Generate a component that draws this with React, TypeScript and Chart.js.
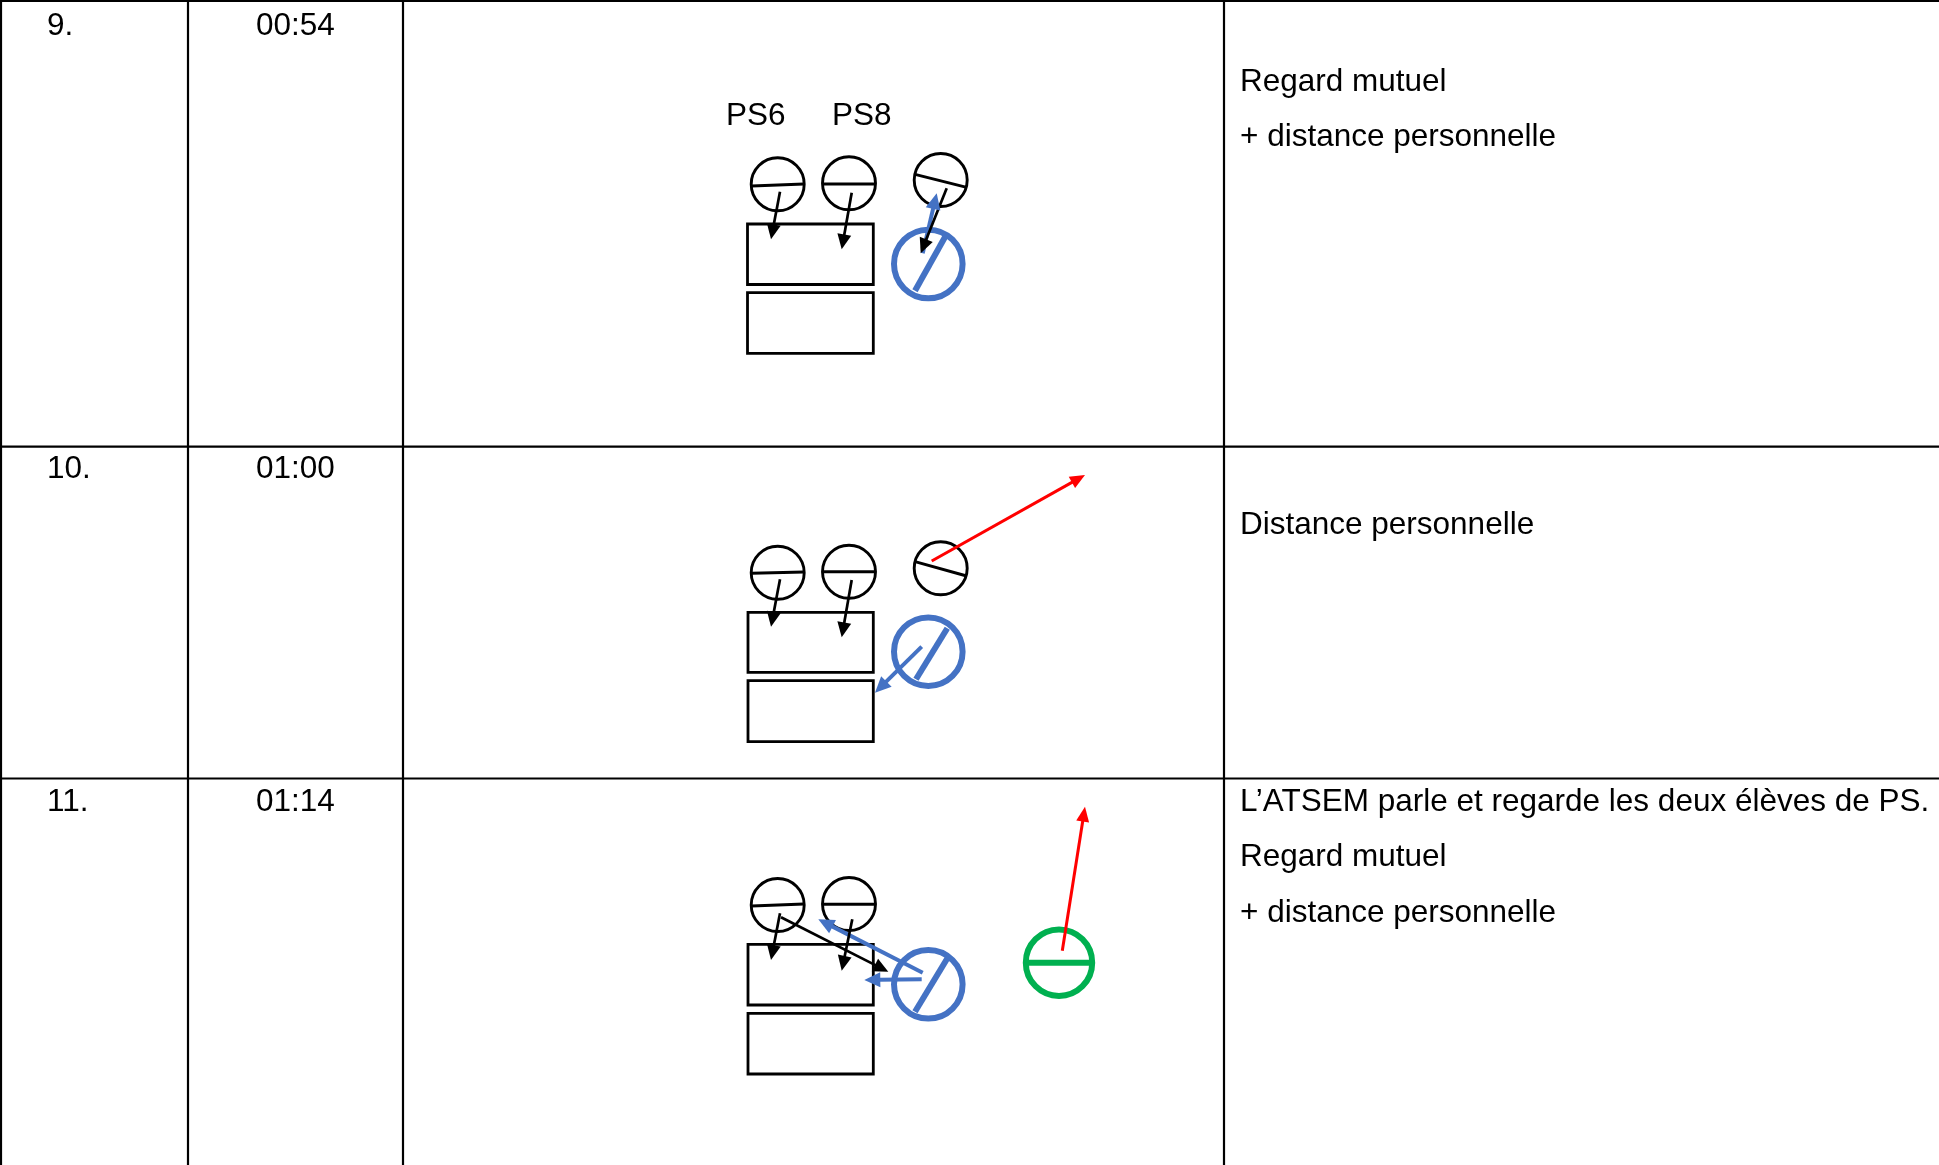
import React, { useEffect, useRef } from "react";
import { Chart, registerables } from "chart.js";
Chart.register(...registerables);

// ---------- data ----------
const rowNumbers = ["9.", "10.", "11."];
const rowTimes = ["00:54", "01:00", "01:14"];
const rowNotes = [
  ["Regard mutuel", "+ distance personnelle"],
  ["Distance personnelle"],
  ["L’ATSEM parle et regarde les deux élèves de PS.", "Regard mutuel", "+ distance personnelle"],
];
const childLabels = ["PS6", "PS8"];

// table rules (in page units)
const ruleRows = [1, 446.7, 778.5];
const ruleCols = [1, 188, 403, 1224];

// text anchors
const numberBaselines = [35, 477.5, 810.5];
const noteBaselines = [[90.5, 145.5], [533.5], [810.5, 866, 921.5]];
const labelAnchors = [[726, 124.5], [832, 124.5]];

// students / adults: [cx, cy, x1, y1, x2, y2] (center + orientation line)
const blackHeads = [
  [777.7, 184.3, 751.7, 186, 804, 184],
  [849, 183.3, 822.7, 184, 875.7, 184],
  [940.7, 180, 915, 174.3, 966.7, 187.3],
  [777.7, 572.7, 751.7, 573.3, 804, 572],
  [849, 571.7, 822.7, 571.7, 875.7, 571.7],
  [940.7, 568.3, 915, 561.7, 966.7, 576],
  [777.7, 905, 751.7, 906, 804, 904],
  [849, 904, 822.7, 904.3, 875.7, 904.3],
];
const blueHeads = [
  [928.3, 264, 946.7, 234, 915, 290.7],
  [928.3, 651.7, 947.3, 628.3, 916, 679.3],
  [928.3, 984.3, 948.3, 956.7, 915, 1011.7],
];
const greenHeads = [[1059, 962.7, 1027.5, 962.7, 1090.5, 962.7]];

// desks: [x1, y1, x2, y2]
const desks = [
  [747.5, 224, 873.3, 284.5],
  [747.5, 292.7, 873.3, 353.3],
  [748, 612.3, 873.3, 672.3],
  [748, 680.7, 873.3, 741.7],
  [748, 944.3, 873.3, 1005],
  [748, 1013.3, 873.3, 1074],
];

// gaze arrows: [fromX, fromY, tipX, tipY, kind]
const gazeArrows: [number, number, number, number, string][] = [
  [780, 191.7, 771, 239.3, "black"],
  [851.7, 192.7, 841.7, 249.3, "black"],
  [946.7, 188.3, 920.7, 253.3, "black"],
  [922.7, 253.3, 936.7, 193.3, "blue"],
  [780, 579.3, 771, 626.7, "black"],
  [851.7, 580, 841.7, 637.3, "black"],
  [931.7, 561, 1085, 475, "red"],
  [921.7, 646.7, 875, 692.7, "blue"],
  [780, 913.3, 771, 960, "black"],
  [852.3, 919.3, 841.7, 970.7, "black"],
  [781, 917.3, 888.3, 971.7, "black"],
  [922.7, 972.7, 818.3, 919.3, "blue"],
  [921.7, 979.3, 864.3, 980, "blue"],
  [1062.3, 950.7, 1085, 806.7, "red"],
];

// ---------- styles ----------
const W = 1939;
const H = 1165;
const FONT = '31.5px "Liberation Sans", Arial, sans-serif';
const COLORS: Record<string, string> = { black: "#000000", blue: "#4472C4", red: "#FF0000", green: "#00B050" };
const ARROW: Record<string, { w: number; len: number; head: number }> = {
  black: { w: 2.7, len: 15, head: 14 },
  blue: { w: 4, len: 16, head: 15 },
  red: { w: 3, len: 15, head: 13 },
};

function seg(x1: number, y1: number, x2: number, y2: number, color: string, width: number, cap = "butt") {
  return {
    type: "scatter" as const,
    data: [{ x: x1, y: y1 }, { x: x2, y: y2 }],
    showLine: true,
    borderColor: color,
    borderWidth: width,
    borderCapStyle: cap,
    pointRadius: 0,
    pointHoverRadius: 0,
    tension: 0,
  };
}

function circle(cx: number, cy: number, r: number, color: string, width: number) {
  return {
    type: "scatter" as const,
    data: [{ x: cx, y: cy }],
    pointStyle: "circle",
    pointRadius: r,
    pointHoverRadius: r,
    pointBorderWidth: width,
    pointBorderColor: color,
    pointBackgroundColor: "rgba(0,0,0,0)",
    showLine: false,
  };
}

function buildDatasets() {
  const ds: any[] = [];
  // arrow shafts (trimmed to the base of the head)
  gazeArrows.forEach(([fx, fy, tx, ty, kind]) => {
    const st = ARROW[kind];
    const dx = tx - fx, dy = ty - fy;
    const L = Math.hypot(dx, dy);
    const ux = dx / L, uy = dy / L;
    const bx = tx - ux * (st.len - 1), by = ty - uy * (st.len - 1);
    ds.push(seg(fx, fy, bx, by, COLORS[kind], st.w));
  });
  // orientation lines
  blackHeads.forEach(([, , x1, y1, x2, y2]) => ds.push(seg(x1, y1, x2, y2, COLORS.black, 2.9)));
  blueHeads.forEach(([, , x1, y1, x2, y2]) => ds.push(seg(x1, y1, x2, y2, COLORS.blue, 6)));
  greenHeads.forEach(([, , x1, y1, x2, y2]) => ds.push(seg(x1, y1, x2, y2, COLORS.green, 6)));
  // heads
  blackHeads.forEach(([cx, cy]) => ds.push(circle(cx, cy, 26.5, COLORS.black, 2.9)));
  blueHeads.forEach(([cx, cy]) => ds.push(circle(cx, cy, 34.3, COLORS.blue, 6)));
  greenHeads.forEach(([cx, cy]) => ds.push(circle(cx, cy, 33.2, COLORS.green, 6)));
  // desks
  desks.forEach(([x1, y1, x2, y2]) => {
    ds.push({
      type: "scatter" as const,
      data: [
        { x: x1, y: y1 },
        { x: x2, y: y1 },
        { x: x2, y: y2 },
        { x: x1, y: y2 },
        { x: x1, y: y1 },
      ],
      showLine: true,
      borderColor: COLORS.black,
      borderWidth: 2.8,
      borderJoinStyle: "miter",
      borderCapStyle: "square",
      pointRadius: 0,
      pointHoverRadius: 0,
    });
  });
  // table rules
  ruleRows.forEach((y) => ds.push(seg(0, y, W, y, COLORS.black, 2.2)));
  ruleCols.forEach((x) => ds.push(seg(x, 0, x, H, COLORS.black, 2.2)));
  return ds;
}

const overlayPlugin = {
  id: "overlay",
  afterDatasetsDraw(chart: any) {
    const ctx = chart.ctx as CanvasRenderingContext2D;
    const xs = chart.scales.x;
    const ys = chart.scales.y;
    const px = (v: number) => xs.getPixelForValue(v);
    const py = (v: number) => ys.getPixelForValue(v);
    ctx.save();
    // arrow heads
    gazeArrows.forEach(([fx, fy, tx, ty, kind]) => {
      const st = ARROW[kind];
      const ax = px(fx), ay = py(fy), bx = px(tx), by = py(ty);
      const dx = bx - ax, dy = by - ay;
      const L = Math.hypot(dx, dy);
      const ux = dx / L, uy = dy / L;
      const baseX = bx - ux * st.len, baseY = by - uy * st.len;
      const nx = -uy * st.head / 2, ny = ux * st.head / 2;
      ctx.beginPath();
      ctx.moveTo(bx, by);
      ctx.lineTo(baseX + nx, baseY + ny);
      ctx.lineTo(baseX - nx, baseY - ny);
      ctx.closePath();
      ctx.fillStyle = COLORS[kind];
      ctx.fill();
    });
    // texts
    ctx.fillStyle = "#000";
    ctx.font = FONT;
    ctx.textBaseline = "alphabetic";
    ctx.textAlign = "left";
    rowNumbers.forEach((t, i) => ctx.fillText(t, px(47), py(numberBaselines[i])));
    rowTimes.forEach((t, i) => ctx.fillText(t, px(256), py(numberBaselines[i])));
    rowNotes.forEach((lines, i) =>
      lines.forEach((t, j) => ctx.fillText(t, px(1240), py(noteBaselines[i][j])))
    );
    childLabels.forEach((t, i) => ctx.fillText(t, px(labelAnchors[i][0]), py(labelAnchors[i][1])));
    ctx.restore();
  },
};

export default function App() {
  const ref = useRef<HTMLCanvasElement | null>(null);
  useEffect(() => {
    if (!ref.current) return;
    const chart = new Chart(ref.current, {
      type: "scatter",
      data: { datasets: buildDatasets() },
      options: {
        responsive: false,
        animation: false,
        devicePixelRatio: 1,
        events: [],
        layout: { padding: 0, autoPadding: false },
        plugins: { legend: { display: false }, tooltip: { enabled: false }, title: { display: false } },
        scales: {
          x: { type: "linear", min: 0, max: W, display: false },
          y: { type: "linear", min: 0, max: H, reverse: true, display: false },
        },
      } as any,
      plugins: [overlayPlugin],
    });
    return () => chart.destroy();
  }, []);
  return (
    <div style={{ position: "fixed", left: 0, top: 0, width: W, height: H, background: "#fff" }}>
      <canvas ref={ref} width={W} height={H} style={{ display: "block", width: W, height: H }} />
    </div>
  );
}
